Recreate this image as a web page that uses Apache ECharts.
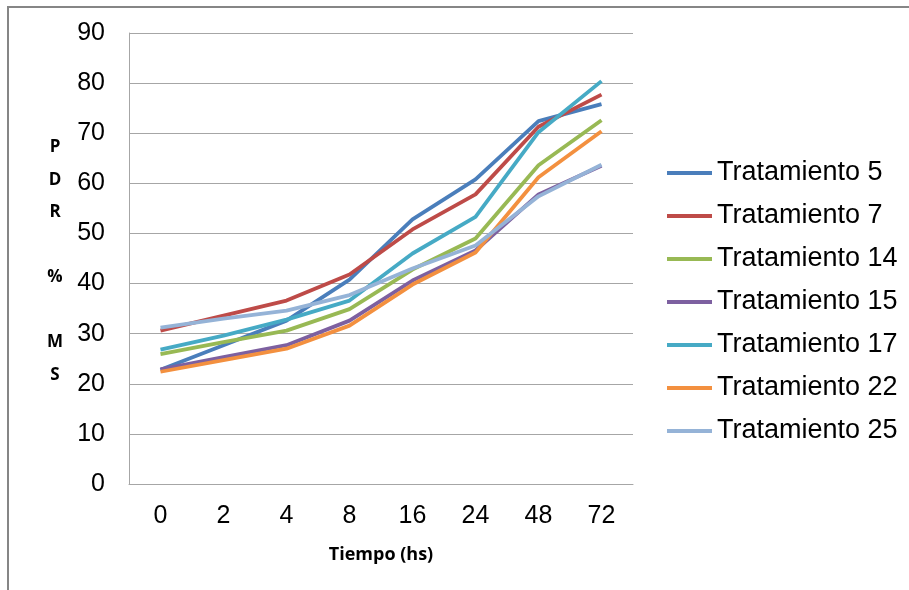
<!DOCTYPE html>
<html>
<head>
<meta charset="utf-8">
<script src="https://cdn.jsdelivr.net/npm/echarts@6/dist/echarts.min.js"></script>
<style>html,body{margin:0;padding:0;background:#fff;}#c{width:909px;height:590px;}</style>
</head>
<body>
<div id="c"></div>
<script>
var categories = ['0', '2', '4', '8', '16', '24', '48', '72'];
var seriesNames = ['Tratamiento 5', 'Tratamiento 7', 'Tratamiento 14', 'Tratamiento 15', 'Tratamiento 17', 'Tratamiento 22', 'Tratamiento 25'];
var t5  = [22.8, 27.7, 32.6, 40.8, 52.8, 60.8, 72.4, 75.8];
var t7  = [30.6, 33.6, 36.6, 41.8, 50.8, 57.8, 71.3, 77.7];
var t14 = [25.9, 28.3, 30.6, 34.9, 42.8, 49.0, 63.6, 72.6];
var t15 = [22.9, 25.3, 27.7, 32.6, 40.6, 46.6, 57.8, 63.5];
var t17 = [26.8, 29.6, 32.8, 36.6, 46.0, 53.3, 70.2, 80.4];
var t22 = [22.4, 24.7, 27.0, 31.6, 39.8, 46.2, 61.2, 70.4];
var t25 = [31.2, 33.0, 34.6, 37.7, 43.0, 47.6, 57.4, 63.7];
var yTicks = [0, 10, 20, 30, 40, 50, 60, 70, 80, 90];

var allData = [t5, t7, t14, t15, t17, t22, t25];
var colors = ['#4A7EBB', '#BE4B48', '#98B954', '#7D60A0', '#46AAC5', '#F3903F', '#95B3D7'];

var chart = echarts.init(document.getElementById('c'), null, {renderer: 'canvas'});
var series = seriesNames.map(function (n, i) {
  return {
    name: n, type: 'line', data: allData[i], symbol: 'none', showSymbol: false,
    lineStyle: {width: 3.8, color: colors[i]}, itemStyle: {color: colors[i]}
  };
});
chart.setOption({
  animation: false,
  backgroundColor: '#fff',
  grid: {left: 129, top: 33, right: 276, bottom: 106},
  graphic: [
    {type: 'rect', shape: {x: 8, y: 7, width: 1000, height: 700}, style: {fill: 'none', stroke: '#868686', lineWidth: 2}, z: 0},
    {type: 'text', style: {text: 'P\nD\nR\n\n%\n\nM\nS', x: 55, y: 261, textAlign: 'center', textVerticalAlign: 'middle',
      font: 'bold 17px "Open Sans", sans-serif', lineHeight: 32.5, fill: '#000'}}
  ],
  legend: {
    orient: 'vertical', left: 662, top: 153, itemWidth: 45, itemHeight: 4, icon: 'rect',
    itemGap: 13, data: seriesNames,
    textStyle: {fontFamily: '"Liberation Sans", Arial, sans-serif', fontSize: 27, color: '#000', lineHeight: 30}
  },
  xAxis: {
    type: 'category', data: categories, boundaryGap: true,
    axisLine: {lineStyle: {color: '#A6A6A6', width: 1}}, axisTick: {show: false},
    axisLabel: {fontFamily: '"Liberation Sans", Arial, sans-serif', fontSize: 25, color: '#000', margin: 20},
    name: 'Tiempo (hs)', nameLocation: 'middle', nameGap: 62,
    nameTextStyle: {fontFamily: '"Open Sans", sans-serif', fontWeight: 'bold', fontSize: 18, color: '#000'}
  },
  yAxis: {
    type: 'value', min: yTicks[0], max: yTicks[yTicks.length - 1], interval: yTicks[1] - yTicks[0],
    axisLine: {show: true, lineStyle: {color: '#A6A6A6', width: 1}}, axisTick: {show: false},
    splitLine: {lineStyle: {color: '#A6A6A6', width: 1}},
    axisLabel: {fontFamily: '"Liberation Sans", Arial, sans-serif', fontSize: 25, color: '#000', margin: 24}
  },
  series: series
});
</script>
</body>
</html>
